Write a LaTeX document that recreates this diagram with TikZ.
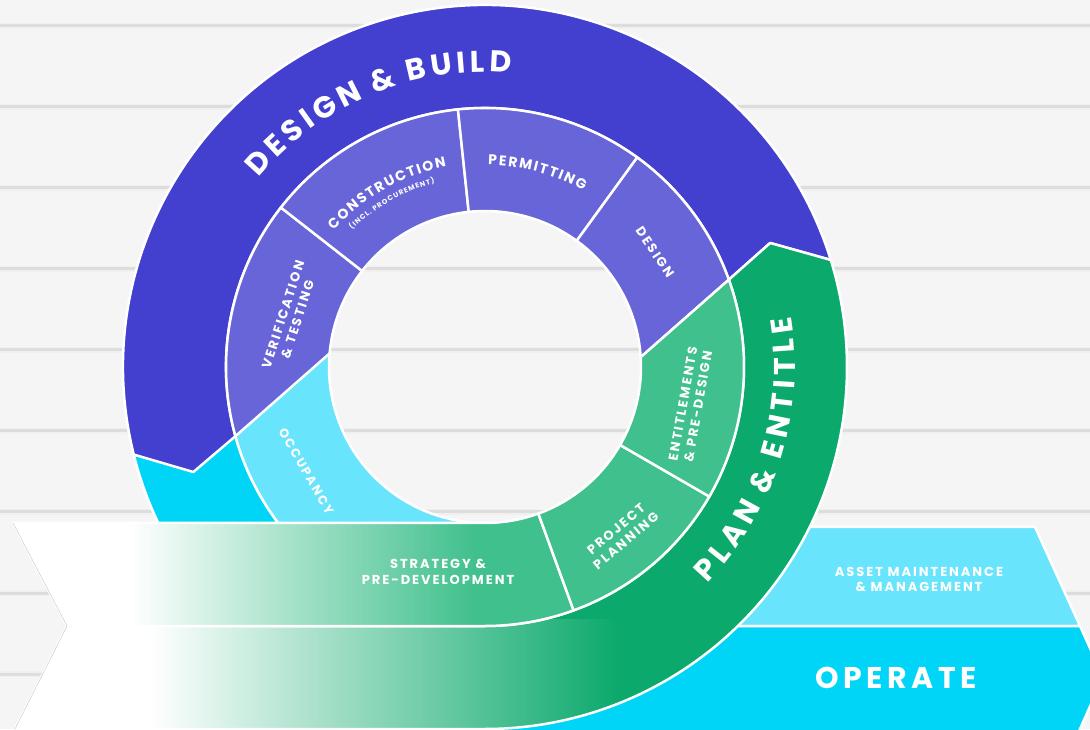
\documentclass[tikz,border=0pt]{standalone}
\usepackage{fontspec}
\newfontfamily\pop{Poppins}
\usetikzlibrary{calc,decorations.text}
\definecolor{bg}{HTML}{F5F5F5}
\definecolor{plank}{HTML}{DDDDDD}
\definecolor{pdark}{HTML}{4340CF}
\definecolor{plight}{HTML}{6865D8}
\definecolor{gdark}{HTML}{0BA96B}
\definecolor{glight}{HTML}{40C08C}
\definecolor{cdark}{HTML}{00D5F7}
\definecolor{clight}{HTML}{68E4FD}
\newcommand\pf[1]{\pop\bfseries\fontsize{#1}{\fpeval{1.18*#1}}\selectfont}
\newcommand\kga{{\kern4.3pt}}
\newcommand\kwa{{\kern12pt}}
\newcommand\kgd{{\kern5.4pt}}
\newcommand\kwd{{\kern13pt}}
\newcommand\kgb{{\kern1.7pt}}
\newcommand\kgc{{\kern1pt}}
\newcommand\kwc{{\kern3pt}}
\newcommand\annsec[4]{($(C)+(#1:#3)$) arc[start angle=#1,end angle=#2,radius=#3] -- ($(C)+(#2:#4)$) arc[start angle=#2,end angle=#1,radius=#4] -- cycle}
\begin{document}
\begin{tikzpicture}[x=1pt,y=1pt,
  seg/.style={draw=white,line width=2.5pt,line join=round},
  lbl/.style={text=white,align=center,inner sep=0pt},
  midtxt/.style={lbl,font=\pf{13}\addfontfeature{LetterSpace=15}}]
\useasboundingbox (0,0) rectangle (1090,729);
\clip (0,0) rectangle (1090,729);
% background planks
\fill[bg] (0,0) rectangle (1090,729);
\foreach \yy in {703,622,541,460,379,298,217,136,55} {
  \fill[plank!45] (0,\yy-3.2) rectangle (1090,\yy+3.2);
  \fill[plank] (0,\yy-1.5) rectangle (1090,\yy+1.5);
}
\coordinate (C) at (485,362);
\coordinate (Ip) at ($(C)+(175:156)$);
\coordinate (Jp) at ($(C)+(195.5:259)$);
\coordinate (Tp) at ($(C)+(199.8:310)$);
\coordinate (Ep) at ($(C)+(194:362)$);
\coordinate (Ig) at ($(C)+(3.6:156)$);
\coordinate (Jg) at ($(C)+(19.7:259)$);
\coordinate (Tg) at ($(C)+(23.5:311)$);
\coordinate (Eg) at ($(C)+(17.2:362)$);
% right bands
\filldraw[fill=clight,seg] (400,202) -- (1035,202) -- (1080,103) -- (400,103) -- cycle;
\filldraw[fill=cdark,seg] (400,103) -- (1080,103) -- (1103,52) -- (1080,0) -- (1076,-10) -- (400,-10) -- cycle;
% cyan lower-left
\filldraw[fill=cdark,seg] \annsec{186}{270}{259}{362};
\filldraw[fill=clight,seg] \annsec{175}{270}{156}{259};
% purple outer
\filldraw[fill=pdark,seg] (Eg) arc[start angle=17.2,end angle=194,radius=362] -- (Tp) -- (Jp) arc[start angle=195.5,end angle=19.7,radius=259] -- (Tg) -- cycle;
% purple middle
\filldraw[fill=plight,seg] (Ip) -- (Jp) arc[start angle=195.5,end angle=142,radius=259] -- ($(C)+(142:156)$) arc[start angle=142,end angle=175,radius=156] -- cycle;
\filldraw[fill=plight,seg] \annsec{96}{142}{156}{259};
\filldraw[fill=plight,seg] \annsec{54}{96}{156}{259};
\filldraw[fill=plight,seg] ($(C)+(54:156)$) -- ($(C)+(54:259)$) arc[start angle=54,end angle=19.7,radius=259] -- (Ig) arc[start angle=3.6,end angle=54,radius=156] -- cycle;
% green outer with gradient
\def\pGout{(15,0) -- (485,0) arc[start angle=270,end angle=377.2,radius=362] -- (Tg) -- (Jg) arc[start angle=19.7,end angle=-90,radius=259] -- (67,103) -- cycle}
\fill[gdark] \pGout;
\begin{scope}
  \clip \pGout;
  \fill[white] (0,-5) rectangle (150,110);
  \shade[left color=white,right color=gdark] (150,-5) rectangle (620,110);
\end{scope}
\draw[seg] \pGout;
% strategy strip
\def\pStrat{(13,206) -- (485,206) arc[start angle=270,end angle=290,radius=156] -- ($(C)+(290:259)$) arc[start angle=290,end angle=270,radius=259] -- (67,103) -- cycle}
\fill[glight] \pStrat;
\begin{scope}
  \clip \pStrat;
  \fill[white] (0,100) rectangle (130,210);
  \shade[left color=white,right color=glight] (130,100) rectangle (475,210);
\end{scope}
\draw[seg] \pStrat;
\draw[gray!40,line width=0.5pt] (13,206) -- (67,103) -- (15,0);
% green middle
\filldraw[fill=glight,seg] \annsec{290}{330}{156}{259};
\filldraw[fill=glight,seg] (Ig) -- (Jg) arc[start angle=19.7,end angle=-30,radius=259] -- ($(C)+(-30:156)$) arc[start angle=-30,end angle=3.6,radius=156] -- cycle;
% curved texts
\path[decorate,decoration={text along path,text align=center,text color=white,
  text={|\pf{30}|D\kga E\kga S\kga I\kga G\kga N\kwa{\&}\kwa B\kga U\kga I\kga L\kga D}}]
  ($(C)+(167.5:295)$) arc[start angle=167.5,end angle=57.5,radius=295];
\path[decorate,decoration={text along path,text align=center,text color=white,
  text={|\pf{30}|P\kgd L\kgd A\kgd N\kwd{\&}\kwd E\kgd N\kgd T\kgd I\kgd T\kgd L\kgd E}}]
  ($(C)+(-70.4:310)$) arc[start angle=-70.4,end angle=35.6,radius=310];
\path[decorate,decoration={text along path,text align=center,text color=white,
  text={|\pf{14}|C\kgb O\kgb N\kgb S\kgb T\kgb R\kgb U\kgb C\kgb T\kgb I\kgb O\kgb N}}]
  ($(C)+(164.4:204)$) arc[start angle=164.4,end angle=74.4,radius=204];
\path[decorate,decoration={text along path,text align=center,text color=white,
  text={|\pf{7}|(\kgc I\kgc N\kgc C\kgc L\kgc .\kwc P\kgc R\kgc O\kgc C\kgc U\kgc R\kgc E\kgc M\kgc E\kgc N\kgc T\kgc )}}]
  ($(C)+(164.7:191)$) arc[start angle=164.7,end angle=74.7,radius=191];
\path[decorate,decoration={text along path,text align=center,text color=white,
  text={|\pf{14}|P\kgb E\kgb R\kgb M\kgb I\kgb T\kgb T\kgb I\kgb N\kgb G}}]
  ($(C)+(120:202)$) arc[start angle=120,end angle=30,radius=202];
% straight labels
\node[midtxt,rotate=-56] (design) at ($(C)+(34:205)$) {DESIGN};
\node[midtxt,rotate=72] (verif) at ($(C)+(165.6:201)$) {VERIFICATION\\\& TESTING};
\node[midtxt,rotate=-60,font=\pf{12.5}\addfontfeature{LetterSpace=15}] (occ) at ($(C)+(210.2:207)$) {OCCUPANCY};
\node[midtxt,rotate=80] (ent) at ($(C)+(-10.5:209)$) {ENTITLEMENTS\\\& PRE-DESIGN};
\node[midtxt,rotate=40] (proj) at ($(C)+(-51:216)$) {PROJECT\\PLANNING};
\node[midtxt] (strat) at (438,157) {STRATEGY \&\\PRE-DEVELOPMENT};
\node[midtxt] (asset) at (919,149.5) {ASSET MAINTENANCE\\\& MANAGEMENT};
\node[lbl,font=\pf{30}\addfontfeature{LetterSpace=15}] (operate) at (896,51.5) {OPERATE};
\end{tikzpicture}
\end{document}
